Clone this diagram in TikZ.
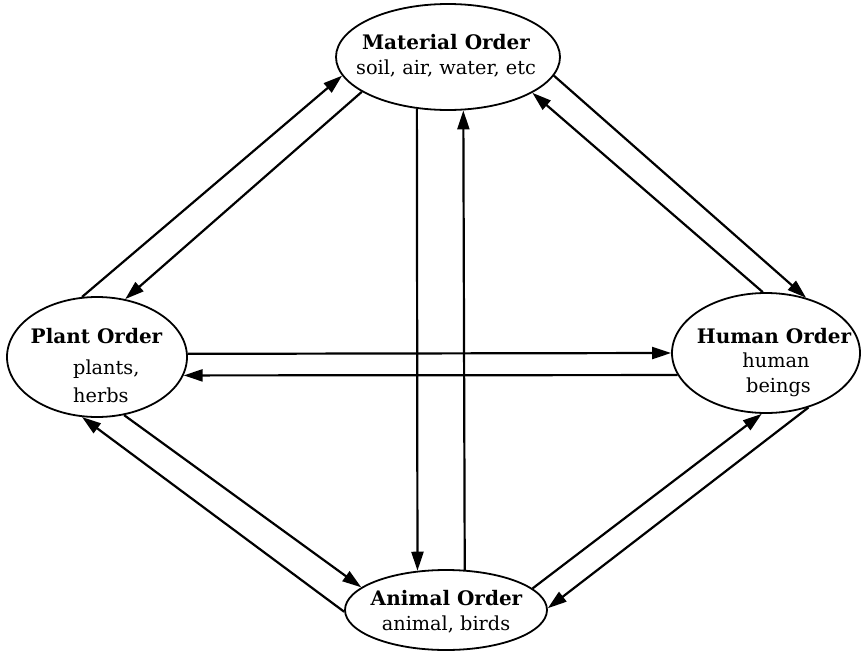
\documentclass[tikz,border=0pt]{standalone}
\usepackage{fontspec}
\setmainfont{DejaVu Serif}
\usetikzlibrary{arrows.meta,shapes.geometric}
\begin{document}
\begin{tikzpicture}[x=1pt,y=-1pt,
  order/.style={draw, shape=ellipse, line width=1.8pt, inner sep=0pt},
  lab/.style={inner sep=0pt, anchor=base, font=\fontsize{19.3}{23}\selectfont},
  head/.style={inner sep=0pt, anchor=base, font=\fontsize{20}{24}\selectfont\bfseries},
  link/.style={line width=2.2pt, -{Triangle[length=19pt,width=12pt]}}
]
\fill[white] (0,0) rectangle (868,651);
\useasboundingbox (0,0) rectangle (868,651);

% ellipses
\node[order, minimum width=224pt, minimum height=106pt] (M) at (448,57) {};
\node[order, minimum width=180pt, minimum height=120pt] (P) at (97,357) {};
\node[order, minimum width=188pt, minimum height=120pt] (H) at (766,353) {};
\node[order, minimum width=202pt, minimum height=80pt] (A) at (446,610) {};

% texts
\node[head] (Mt1) at (446,49) {Material Order};
\node[lab]  (Mt2) at (446,74) {soil, air, water, etc};
\node[head] (Pt1) at (96.5,343) {Plant Order};
\node[lab, anchor=base west] (Pt2) at (73,374) {plants,};
\node[lab, anchor=base west] (Pt3) at (73,402) {herbs};
\node[head] (Ht1) at (774,343) {Human Order};
\node[lab]  (Ht2) at (776,367) {human};
\node[lab]  (Ht3) at (778.5,392) {beings};
\node[head] (At1) at (446.5,605) {Animal Order};
\node[lab]  (At2) at (446,630) {animal, birds};

% connectors
\draw[link] (P.104.3) -- (M.190.5);
\draw[link] (M.202.7) -- (P.64.6);
\draw[link] (M.350.3) -- (H.54.1);
\draw[link] (H.93.8) -- (M.337.1);
\draw[link] (A.181.2) -- (P.256.2);
\draw[link] (P.295) -- (A.165);
\draw[link] (A.14.7) -- (H.266.4);
\draw[link] (H.308.5) -- (A.1.2);
\draw[link] (P.2.55) -- (H.180);
\draw[link] (H.194.12) -- (P.348.15);
\draw[link] (M.239.57) -- (A.126.08);
\draw[link] (A.65.43) -- (M.286.96);
\end{tikzpicture}
\end{document}
